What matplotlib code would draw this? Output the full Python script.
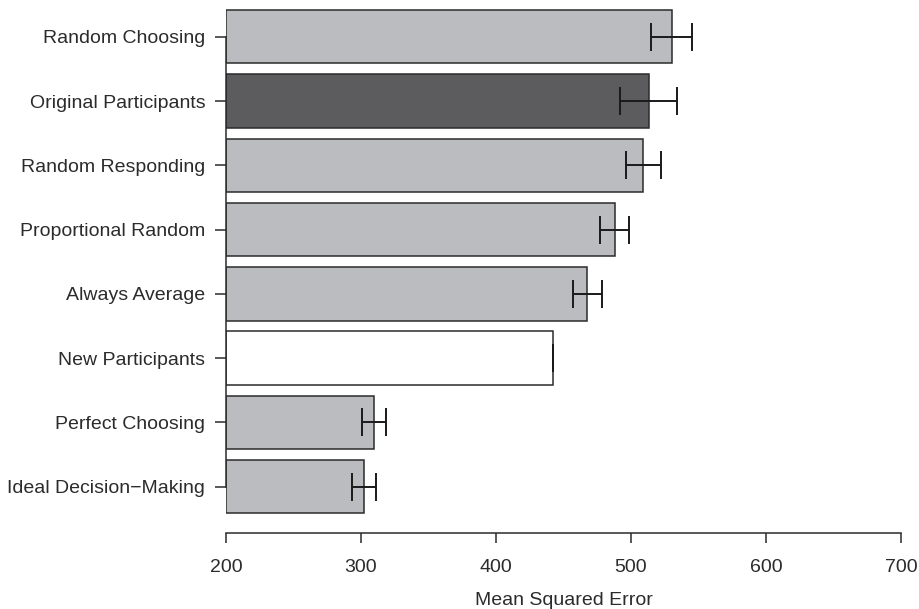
import numpy as np
import matplotlib.pyplot as plt

plt.rcParams['font.family'] = ['Liberation Sans', 'DejaVu Sans']

# Model comparison: mean squared error with error bars
labels = ["Random Choosing", "Original Participants", "Random Responding",
          "Proportional Random", "Always Average", "New Participants",
          "Perfect Choosing", "Ideal Decision\u2212Making"]
mse = np.array([530, 513, 509, 488, 467.5, 442, 309.5, 302])
err = np.array([15, 21, 13, 10.7, 10.8, 0, 8.8, 9])
colors = ["#bbbcc0", "#5c5c5e", "#bbbcc0", "#bbbcc0", "#bbbcc0",
          "#ffffff", "#bbbcc0", "#bbbcc0"]

base = 200
ink = "#2b2b2b"

fig = plt.figure(figsize=(9.19, 6.09), dpi=100)
ax = fig.add_axes([226 / 919, 1 - 533 / 609, (901 - 226) / 919, (533 - 4) / 609])

y = np.arange(len(labels))
ax.barh(y, mse - base, left=base, height=0.83, color=colors,
        edgecolor=ink, linewidth=1.1, zorder=2)
ax.errorbar(mse, y, xerr=err, fmt="none", ecolor="#1a1a1a",
            elinewidth=1.4, capsize=10, capthick=1.4, zorder=3)

ax.set_xlim(200, 700)
ax.set_ylim(7.72, -0.51)
ax.set_xticks(np.arange(200, 701, 100))
ax.set_yticks(y)
ax.set_yticklabels(labels)
ax.set_xlabel("Mean Squared Error", fontsize=14, color=ink, labelpad=11)

for side in ["top", "right"]:
    ax.spines[side].set_visible(False)
ax.spines["left"].set_bounds(0, len(labels) - 1)
ax.spines["bottom"].set_bounds(200, 700)
for side in ["left", "bottom"]:
    ax.spines[side].set_color(ink)
    ax.spines[side].set_linewidth(1.1)

ax.tick_params(axis="y", length=8, width=1.1, pad=7, labelsize=14,
               color=ink, labelcolor=ink)
ax.tick_params(axis="x", length=7, width=1.1, pad=12, labelsize=14,
               color=ink, labelcolor=ink)

fig.savefig("out.png", dpi=100)
